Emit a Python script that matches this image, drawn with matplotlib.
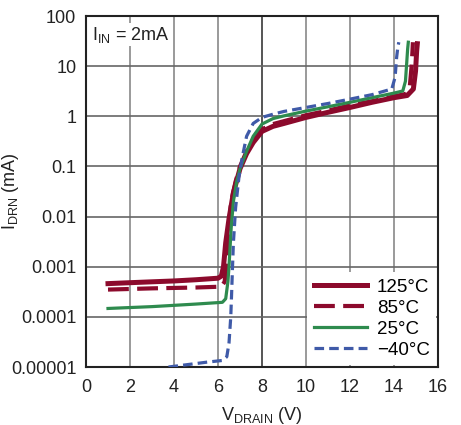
import matplotlib
matplotlib.use("Agg")
import matplotlib.pyplot as plt

plt.rcParams['font.family'] = ['Liberation Sans Narrow', 'Liberation Sans', 'DejaVu Sans']
plt.rcParams['mathtext.default'] = 'regular'

# ---- data ----
x_125 = [1, 2, 3, 4, 5, 6, 6.15, 6.25, 6.35, 6.5, 6.7, 7.0, 7.3, 7.6, 8.0, 8.5, 9, 10, 11, 12, 13, 14, 14.6, 14.88, 14.98, 15.03, 15.06]
y_125 = [4.6e-4, 4.8e-4, 5.0e-4, 5.2e-4, 5.5e-4, 5.9e-4, 6.5e-4, 1e-3, 3e-3, 9e-3, 0.03, 0.09, 0.18, 0.3, 0.5, 0.63, 0.72, 0.95, 1.2, 1.5, 1.9, 2.35, 2.6, 3.5, 8, 20, 28]

x_85 = [1, 3, 5, 6.15, 6.3, 6.4, 6.45, 6.5, 6.6, 6.8, 7.0, 7.3, 7.6, 8.0, 8.5, 9, 10, 11, 12, 13, 14, 14.55, 14.72, 14.8, 14.84, 14.86]
y_85 = [3.5e-4, 3.7e-4, 3.85e-4, 4e-4, 5e-4, 1.2e-3, 3e-3, 7e-3, 0.02, 0.05, 0.1, 0.2, 0.33, 0.55, 0.7, 0.8, 1.05, 1.3, 1.65, 2.0, 2.5, 2.8, 4, 10, 20, 30]

x_25 = [1, 3, 5, 6.2, 6.35, 6.45, 6.5, 6.55, 6.6, 6.7, 6.85, 7.0, 7.3, 7.6, 8.0, 8.5, 9, 10, 11, 12, 13, 14, 14.4, 14.52, 14.58, 14.62, 14.65]
y_25 = [1.47e-4, 1.6e-4, 1.8e-4, 1.95e-4, 2.3e-4, 5e-4, 1e-3, 2.5e-3, 6e-3, 0.02, 0.05, 0.09, 0.2, 0.4, 0.7, 0.9, 1.02, 1.27, 1.55, 1.9, 2.35, 2.9, 3.2, 5, 12, 22, 30]

x_m40 = [3.75, 4.5, 5.5, 6.2, 6.4, 6.5, 6.58, 6.62, 6.66, 6.7, 6.8, 6.95, 7.1, 7.3, 7.6, 8.0, 8.5, 9, 10, 11, 12, 13, 13.9, 14.05, 14.12, 14.18, 14.22]
y_m40 = [1.0e-5, 1.1e-5, 1.25e-5, 1.35e-5, 1.6e-5, 3e-5, 1e-4, 3e-4, 1e-3, 3e-3, 0.015, 0.06, 0.15, 0.4, 0.72, 0.95, 1.1, 1.25, 1.5, 1.8, 2.2, 2.7, 3.5, 6, 15, 25, 30]

y_ticks = [1e-5, 1e-4, 1e-3, 1e-2, 1e-1, 1, 10, 100]
y_tick_labels = ['0.00001', '0.0001', '0.001', '0.01', '0.1', '1', '10', '100']
x_ticks = [0, 2, 4, 6, 8, 10, 12, 14, 16]

red = '#8c0a2c'
green = '#2e8b4e'
blue = '#3f5aa8'
txt = '#222222'

fig = plt.figure(figsize=(4.61, 4.25), dpi=100)
ax = fig.add_axes([86/461, 1-367/425, (438-86)/461, (367-16)/425])
ax.set_yscale('log')
ax.set_xlim(0, 16)
ax.set_ylim(1e-5, 100)

# grid
for xv in x_ticks[1:-1]:
    ax.axvline(xv, color='#555555' if xv == 8 else '#9a9a9a', lw=1.4, zorder=1)
for yv in y_ticks[1:-1]:
    ax.axhline(yv, color='#666666', lw=1.2, zorder=1)

ax.plot(x_125, y_125, color=red, lw=3.6, label='125°C', zorder=3)
ax.plot(x_85, y_85, color=red, lw=3.0, dashes=(5, 2), label='85°C', zorder=3)
ax.plot(x_25, y_25, color=green, lw=2.3, label='25°C', zorder=3)
ax.plot(x_m40, y_m40, color=blue, lw=2.3, dashes=(3, 1.6), label='\u221240°C', zorder=4)

ax.set_xticks(x_ticks)
ax.set_yticks(y_ticks)
ax.set_yticklabels(y_tick_labels)
ax.minorticks_off()
ax.tick_params(axis='y', length=0, labelsize=13, pad=7, colors=txt)
ax.tick_params(axis='x', length=0, labelsize=13, pad=9, colors=txt)
for s in ax.spines.values():
    s.set_linewidth(1.5)
    s.set_color(txt)

ax.set_xlabel(r'V$_{DRAIN}$ (V)', fontsize=13, color=txt)
ax.xaxis.set_label_coords(0.5, -0.108)
ax.set_ylabel(r'I$_{DRN}$ (mA)', fontsize=13, color=txt)
ax.yaxis.set_label_coords(-0.185, 0.5)

ax.text(0.25, 42, r'I$_{IN}$ = 2mA', fontsize=13, color=txt, va='center', ha='left',
        bbox=dict(facecolor='white', edgecolor='none', pad=1), zorder=5)

leg = ax.legend(loc='lower right', fontsize=13.5, frameon=True, fancybox=False,
                edgecolor='none', facecolor='white', framealpha=1,
                handlelength=2.85, handletextpad=0.5, labelspacing=0.2,
                borderpad=0.35, borderaxespad=0.1)
leg.set_zorder(6)

fig.savefig('out.png', dpi=100)
